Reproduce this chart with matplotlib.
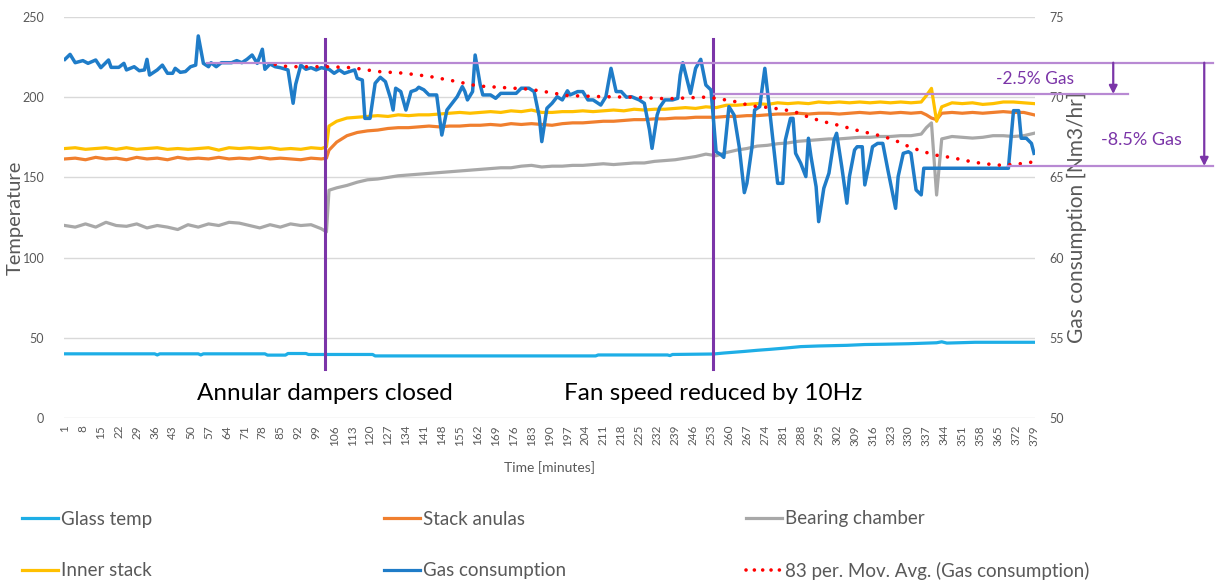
import matplotlib
matplotlib.use("Agg")
import matplotlib.pyplot as plt
from matplotlib.lines import Line2D

plt.rcParams['font.family'] = ['Lato', 'DejaVu Sans']

# ---- data (time in minutes, temperatures in deg, gas in Nm3/hr) ----
t_temp = [1, 5, 9, 13, 17, 21, 25, 29, 33, 37, 41, 45, 49, 53, 57, 61, 65, 69, 73, 77,
          81, 85, 89, 93, 97, 101, 103, 104, 107, 111, 115, 119, 123, 127, 131, 135, 139,
          143, 147, 151, 155, 159, 163, 167, 171, 175, 179, 183, 187, 191, 195, 199, 203,
          207, 211, 215, 219, 223, 227, 231, 235, 239, 243, 247, 251, 255, 259, 263, 267,
          271, 275, 279, 283, 287, 291, 295, 299, 303, 307, 311, 315, 319, 323, 327, 331,
          335, 337, 339, 341, 343, 347, 351, 355, 359, 363, 367, 371, 375, 379]

inner_stack = [168, 168.5, 167.5, 168, 168.5, 167.5, 168.5, 167.5, 168, 168.5, 167.5, 168,
               167.5, 168, 168.5, 167, 168.5, 168, 168.5, 168, 168.5, 167.5, 168, 167.5,
               168.5, 168, 169, 182, 185, 187, 187.5, 188, 188.5, 188, 189, 188.5, 189, 189,
               189.5, 190, 190.5, 190, 190.5, 191, 190.5, 191.5, 191, 192, 190.5, 190.5, 191,
               191, 191.5, 191, 191.5, 192, 191.5, 192.5, 192, 192.5, 192.5, 193, 193.5, 193,
               194, 193.5, 195, 195, 195.5, 196, 195.5, 196.5, 196, 196.5, 196, 197, 196.5,
               197, 196.5, 197, 196.5, 197, 196.5, 197, 196.5, 197, 201, 205.5, 185, 194,
               196.5, 196, 196.5, 195.5, 196, 197, 197, 196.5, 196]

stack_anulas = [161.5, 162, 161, 162.5, 161.5, 162, 161, 162.5, 161.5, 162, 161, 162.5,
                161.5, 162, 161.5, 162.5, 161.5, 162, 161.5, 162.5, 161.5, 162, 161.5, 161,
                162, 161.5, 162, 167, 172, 176, 178, 179, 179.5, 180.5, 181, 181, 181.5, 182,
                181.5, 182, 182, 182.5, 182.5, 183, 182.5, 183.5, 183, 183.5, 183, 182.5,
                183.5, 184, 184, 184.5, 185, 185, 185.5, 186, 186, 186.5, 186.5, 187, 187,
                187.5, 187.5, 187.5, 188, 188, 188.5, 188.5, 189, 189.5, 189.5, 190, 189.5,
                190, 190, 189.5, 190, 190.5, 190, 190.5, 190, 190.5, 190, 190.5, 189, 187,
                186, 190, 190.5, 190, 190.5, 190, 190.5, 191, 190.5, 190.5, 189]

bearing_chamber = [120, 119, 121, 119, 122, 120, 119.5, 121, 118.5, 120, 119, 117.5, 120.5,
                   119, 121, 120, 122, 121.5, 120, 118.5, 120.5, 119, 121, 120, 120.5, 118,
                   116, 142, 143.5, 145, 147, 148.5, 149, 150, 151, 151.5, 152, 152.5, 153,
                   153.5, 154, 154.5, 155, 155.5, 156, 156, 157, 157.5, 156.5, 157, 157, 157.5,
                   157.5, 158, 158.5, 158, 158.5, 159, 159, 160, 160.5, 161, 162, 163, 164.5,
                   163.5, 165.5, 167, 168, 169.5, 170, 171, 171.5, 172.5, 173, 173.5, 174, 174,
                   174.5, 175, 175, 175.5, 175.5, 176, 176, 177, 181, 184, 139, 174, 175.5, 175,
                   174.5, 175, 176, 176, 175.5, 176, 177.5]

t_glass = [1, 36, 37, 38, 53, 54, 55, 79, 80, 87, 88, 95, 96, 121, 122, 208, 209, 236, 237,
           238, 254, 258, 262, 266, 271, 276, 282, 288, 295, 306, 313, 321, 330, 341, 343,
           345, 356, 379]
glass_temp = [40.0, 40.0, 39.3, 40.0, 40.0, 39.3, 40.0, 40.0, 39.2, 39.2, 40.2, 40.2, 39.6,
              39.6, 38.7, 38.7, 39.3, 39.3, 38.9, 39.6, 39.9, 40.5, 41.0, 41.5, 42.2, 42.8,
              43.6, 44.5, 44.9, 45.3, 45.8, 46.0, 46.3, 46.9, 47.5, 46.7, 47.2, 47.2]

t_gas = [1, 3, 5, 8, 10, 13, 15, 18, 19, 22, 24, 25, 28, 30, 32, 33, 34, 37, 39, 41, 43, 44,
         46, 48, 50, 52, 53, 55, 57, 58, 60, 62, 66, 68, 70, 72, 74, 76, 78, 79, 81, 83, 85,
         88, 90, 91, 93, 95, 97, 99, 101, 104, 106, 108, 110, 112, 114, 115, 117, 118, 120,
         122, 124, 126, 128, 129, 130, 132, 134, 136, 138, 139, 141, 143, 146, 148, 150, 152,
         154, 156, 157, 158, 160, 161, 163, 164, 167, 169, 171, 174, 177, 179, 182, 184, 186,
         187, 189, 191, 193, 195, 197, 198, 201, 203, 205, 207, 210, 212, 214, 216, 218, 220,
         222, 225, 227, 229, 230, 232, 233, 235, 238, 240, 241, 242, 245, 247, 249, 251, 253,
         255, 257, 258, 260, 262, 264, 266, 267, 269, 270, 272, 274, 276, 279, 281, 282, 284,
         285, 286, 288, 290, 291, 292, 294, 295, 297, 299, 301, 302, 304, 306, 307, 309, 310,
         312, 313, 315, 316, 318, 320, 322, 325, 326, 328, 330, 331, 333, 335, 336, 369, 371,
         373, 374, 376, 378, 379]
gas = [72.36, 72.67, 72.15, 72.28, 72.11, 72.32, 71.84, 72.32, 71.86, 71.86, 72.11, 71.70,
       71.90, 71.65, 71.70, 72.36, 71.38, 71.70, 72.00, 71.49, 71.49, 71.80, 71.55, 71.60,
       71.90, 72.00, 73.82, 72.11, 71.90, 72.15, 71.90, 72.15, 72.15, 72.28, 72.15, 72.36,
       72.63, 72.11, 72.99, 71.74, 72.07, 71.90, 71.84, 71.70, 69.62, 70.80, 72.00, 71.74,
       71.84, 71.70, 71.84, 71.74, 71.49, 71.70, 71.49, 71.60, 71.70, 71.18, 71.07, 68.68,
       68.68, 70.87, 71.24, 70.97, 69.93, 69.20, 70.56, 70.35, 69.20, 70.35, 70.46, 70.62,
       70.46, 70.14, 70.14, 67.64, 69.20, 69.62, 70.03, 70.66, 70.35, 69.83, 70.35, 72.63,
       70.76, 70.14, 70.14, 69.93, 70.24, 70.24, 70.24, 70.56, 70.56, 70.35, 68.79, 67.23,
       69.31, 69.62, 70.03, 69.83, 70.40, 70.14, 70.35, 70.35, 69.83, 69.83, 69.51, 70.03,
       71.80, 70.35, 70.35, 70.00, 70.03, 69.83, 69.62, 67.96, 66.81, 68.89, 69.37, 69.83,
       69.83, 69.93, 71.38, 72.15, 70.24, 71.80, 72.36, 70.76, 70.45, 66.60, 66.40, 66.25,
       69.41, 68.89, 66.91, 64.05, 64.63, 66.91, 69.20, 69.41, 71.80, 69.00, 64.63, 64.63,
       67.33, 68.68, 68.68, 66.50, 65.88, 65.05, 67.44, 66.30, 64.42, 62.24, 64.32, 65.26,
       67.33, 67.75, 65.67, 63.39, 65.05, 66.71, 66.91, 66.91, 64.53, 66.08, 66.91, 67.12,
       67.12, 65.46, 63.07, 65.05, 66.50, 66.60, 66.50, 64.22, 63.91, 65.57, 65.57, 69.16,
       69.16, 67.44, 67.44, 67.12, 66.50]

t_mavg = [83, 88, 91, 104, 113, 123, 133, 143, 153, 162, 172, 182, 188, 197, 211, 223, 236,
          250, 255, 262, 269, 276, 282, 285, 290, 296, 304, 311, 317, 324, 329, 335, 341, 347,
          353, 359, 366, 372, 379]
gas_mavg = [72.05, 71.90, 71.90, 71.90, 71.84, 71.60, 71.50, 71.30, 71.00, 70.70, 70.60,
            70.50, 70.35, 70.10, 70.03, 70.00, 69.90, 70.00, 69.93, 69.74, 69.45, 69.35, 69.20,
            69.13, 68.82, 68.51, 68.20, 67.89, 67.68, 67.37, 67.00, 66.64, 66.38, 66.23, 66.03,
            65.86, 65.76, 65.82, 65.97]

tick_labels = [str(v) for v in range(1, 380, 7)]

# event markers and gas-reduction annotation levels
events = [(102.4, "Annular dampers closed"), (253.8, "Fan speed reduced by 10Hz")]
gas_levels = [72.15, 70.2, 65.71]

c_glass = '#1EAEE6'
c_anulas = '#F07F2E'
c_bearing = '#A8A8A8'
c_inner = '#FFC000'
c_gas = '#1F7CC8'
c_purple = '#7B35A8'
c_light_purple = '#B889D3'
c_text = '#595959'

fig = plt.figure(figsize=(12.15, 5.82), dpi=100)
ax = fig.add_axes([0.0524, 0.2818, 0.7997, 0.6890])
ax2 = ax.twinx()

lw = 2.3
ax.plot(t_glass, glass_temp, color=c_glass, lw=lw)
ax.plot(t_temp, stack_anulas, color=c_anulas, lw=lw)
ax.plot(t_temp, bearing_chamber, color=c_bearing, lw=lw)
ax.plot(t_temp, inner_stack, color=c_inner, lw=lw)
ax2.plot(t_gas, gas, color=c_gas, lw=2.5)
ax2.plot(t_mavg, gas_mavg, color='#FF0000', lw=2.6, linestyle=(0, (0.01, 2.9)),
         dash_capstyle='round')

ax.set_xlim(0.5, 379.5)
ax.set_ylim(0, 250)
ax2.set_ylim(50, 75)
ax.set_yticks(range(0, 251, 50))
ax2.set_yticks(range(50, 76, 5))
ax.set_xticks(range(1, 380, 7))
ax.set_xticklabels(tick_labels, rotation=90, fontsize=8.5, color=c_text)
ax.grid(axis='y', color='#D9D9D9', lw=1)
ax.set_axisbelow(True)
for a in (ax, ax2):
    for s in a.spines.values():
        s.set_visible(False)
ax.tick_params(axis='both', length=0)
ax.tick_params(axis='y', labelsize=9, labelcolor=c_text, pad=14)
ax.tick_params(axis='x', pad=5)
ax2.tick_params(axis='y', length=0, labelsize=9, labelcolor=c_text, pad=10)

ax.set_xlabel("Time [minutes]", fontsize=10, color=c_text)
ax.set_ylabel("Temperature", fontsize=14.5, color=c_text)
ax2.set_ylabel("Gas consumption [Nm3/hr]", fontsize=15, color=c_text)
ax.xaxis.set_label_coords(0.5, -0.108)
ax.yaxis.set_label_coords(-0.041, 0.5)
ax2.yaxis.set_label_coords(1.0326, 0.5)

# event lines and labels
for x, label in events:
    ax.plot([x, x], [30.6, 236.1], color=c_purple, lw=2.2, clip_on=False)
    ax.text(x, 15.0, label, ha='center', va='center', fontsize=17.5, color='black')

# gas reduction reference lines and arrows
ax2.plot([56.4, 448.9], [gas_levels[0], gas_levels[0]], color=c_light_purple, lw=1.6, clip_on=False)
ax2.plot([254, 415.8], [gas_levels[1], gas_levels[1]], color=c_light_purple, lw=1.6, clip_on=False)
ax2.plot([368.9, 448.9], [gas_levels[2], gas_levels[2]], color=c_light_purple, lw=1.6, clip_on=False)
ax2.annotate("", xy=(409.9, gas_levels[1]), xytext=(409.9, gas_levels[0]),
             arrowprops=dict(arrowstyle='-|>', color=c_purple, lw=1.6, mutation_scale=12,
                             shrinkA=0, shrinkB=0), annotation_clip=False)
ax2.annotate("", xy=(445.4, gas_levels[2]), xytext=(445.4, gas_levels[0]),
             arrowprops=dict(arrowstyle='-|>', color=c_purple, lw=1.6, mutation_scale=12,
                             shrinkA=0, shrinkB=0), annotation_clip=False)
ax2.text(379.5, 71.13, "-2.5% Gas", ha='center', va='center', fontsize=12.5, color=c_purple,
         clip_on=False)
ax2.text(420.8, 67.33, "-8.5% Gas", ha='center', va='center', fontsize=13, color=c_purple,
         clip_on=False)

# legend in three columns
def h(color, ls='-'):
    if ls == '-':
        return Line2D([], [], color=color, lw=2.3)
    return Line2D([], [], color=color, lw=2.6, linestyle=(0, (0.01, 2.3)), dash_capstyle='round')

cols = [
    (22, [h(c_glass), h(c_inner)], ["Glass temp", "Inner stack"]),
    (384, [h(c_anulas), h(c_gas)], ["Stack anulas", "Gas consumption"]),
    (746, [h(c_bearing), h('#FF0000', ':')], ["Bearing chamber", "83 per. Mov. Avg. (Gas consumption)"]),
]
for x, handles, labels in cols:
    fig.legend(handles, labels, loc='center left', bbox_to_anchor=(x / 1215, 0.0635),
               frameon=False, fontsize=13.5, labelcolor=c_text, handlelength=1.9,
               handletextpad=0.2, labelspacing=1.85, borderpad=0, borderaxespad=0)

fig.savefig("out.png", dpi=100)
